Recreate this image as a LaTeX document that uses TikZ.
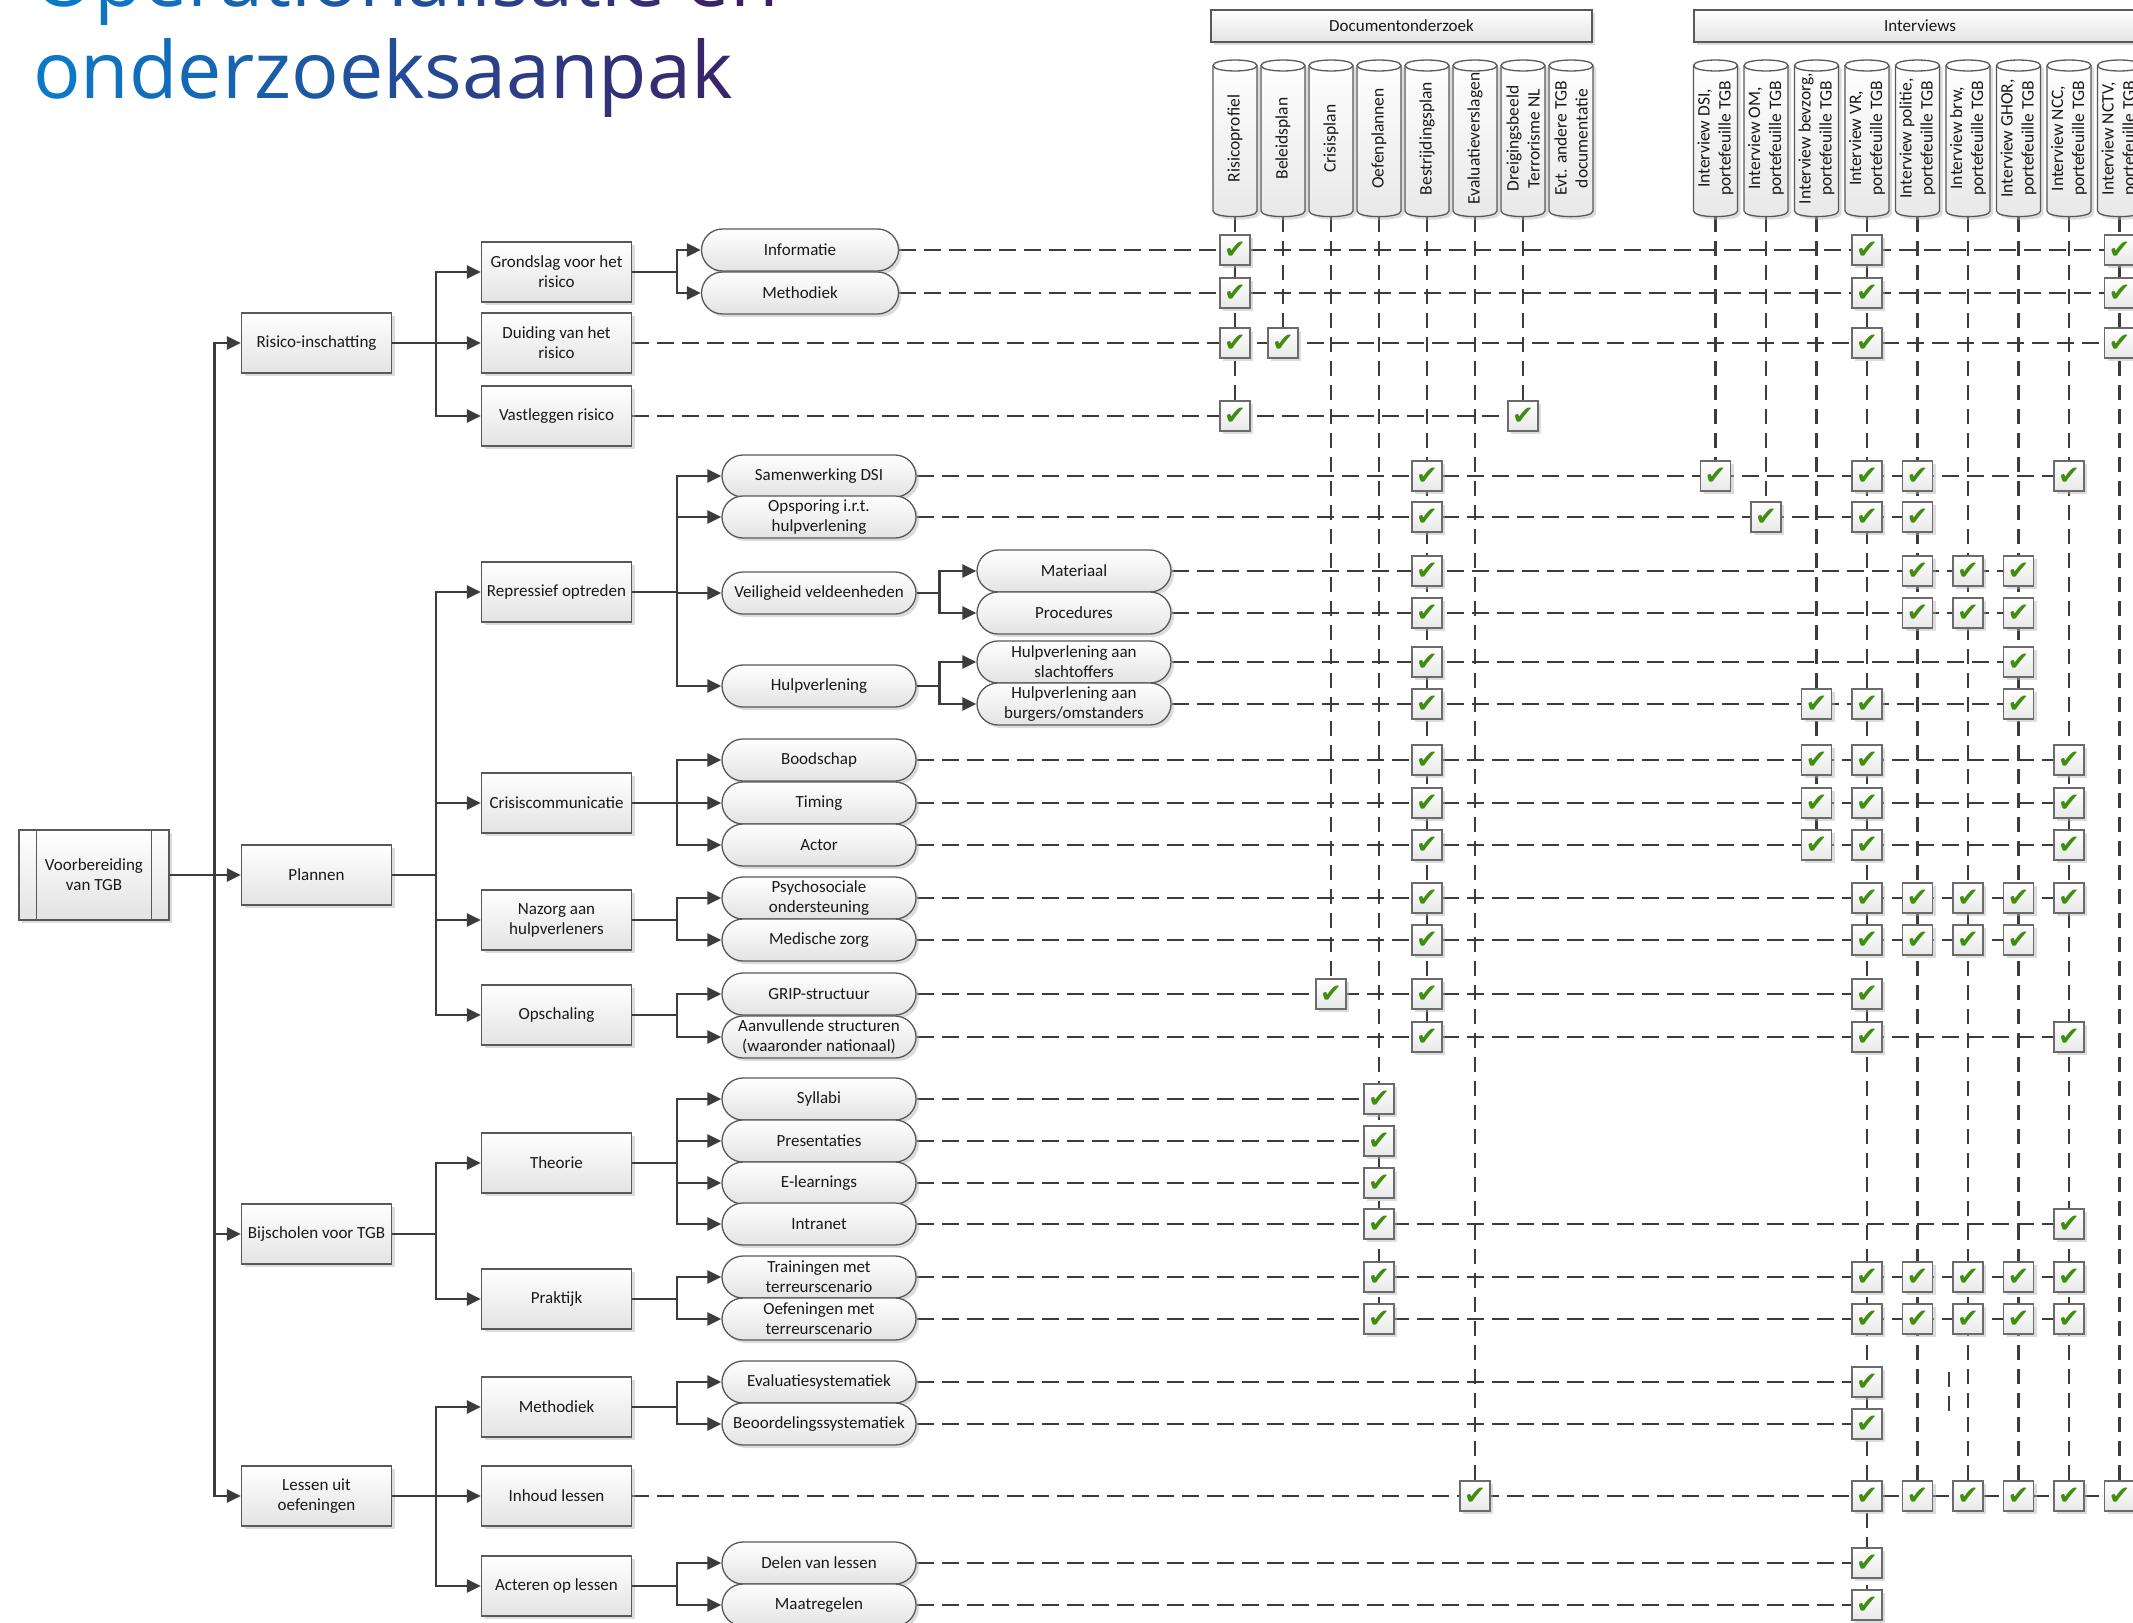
\documentclass[tikz,border=0pt]{standalone}
\usepackage{fontspec}
\setmainfont{Carlito}
\newfontfamily\titlefont{Open Sans}
\newfontfamily\symfont{DejaVu Sans}
\usetikzlibrary{arrows.meta,shadows}
\pgfdeclarelayer{bg}
\pgfsetlayers{bg,main}
\definecolor{lc}{HTML}{3C3C3C}
\definecolor{bd}{HTML}{595959}
\definecolor{chkg}{HTML}{3F8E10}
\definecolor{tA}{HTML}{0A7BCB}
\definecolor{tB}{HTML}{3D1E62}
\newcommand{\gl}[2]{\textcolor{tA!#1!tB}{#2}}
\tikzset{
 shd/.style={drop shadow={shadow xshift=3pt,shadow yshift=-3pt,fill=black!30,opacity=.45}},
 box/.style={draw=bd, line width=1.3pt, top color=white, bottom color=black!11, shd, align=center, font=\fontsize{17}{20}\selectfont, text=black!90, inner sep=2pt},
 lvbox/.style={box, minimum width=150pt, minimum height=60pt},
 stad/.style={box, rounded corners=21pt, minimum width=194pt, minimum height=42pt, inner sep=1pt},
 hdr/.style={box, minimum height=32pt},
 cylsty/.style={draw=bd, line width=1.3pt, top color=white, bottom color=black!9, shd},
 cylrim/.style={draw=bd, line width=1.3pt},
 cyltext/.style={rotate=90, minimum width=157pt, minimum height=44pt, inner sep=0pt, align=center, font=\fontsize{17.5}{21}\selectfont, text=black!90},
 chk/.style={draw=black!58, line width=1.2pt, top color=white, bottom color=black!9, shd, minimum width=30pt, minimum height=30pt, inner sep=0pt, text=chkg, font=\symfont\fontsize{26}{26}\selectfont},
 arr/.style={draw=lc, line width=2.6pt, -{Triangle[length=14pt,width=13pt]}},
 hd/.style={draw=lc, line width=2.6pt, dash pattern=on 17pt off 8pt},
 vd/.style={draw=lc, line width=2.2pt, dash pattern=on 15pt off 9pt},
}
\newcommand{\mycyl}[3]{%
  \draw[cylsty] ({#2-22},65.5) -- ({#2-22},211) .. controls ({#2-22},218.5) and ({#2+22},218.5) .. ({#2+22},211) -- ({#2+22},65.5) .. controls ({#2+22},58.2) and ({#2-22},58.2) .. ({#2-22},65.5) -- cycle;
  \draw[cylrim] ({#2-22},65.5) .. controls ({#2-22},72.8) and ({#2+22},72.8) .. ({#2+22},65.5);
  \node[cyltext] (#1) at (#2,138.5) {#3};}
\begin{document}
\begin{tikzpicture}[x=1pt,y=-1pt]
\useasboundingbox (0,0) rectangle (2133,1622);
\begin{pgfonlayer}{bg}
\fill[white] (0,0) rectangle (2133,1622);
\end{pgfonlayer}
\clip (0,0) rectangle (2133,1622);

% title
\node[anchor=base west, inner sep=0pt, font=\titlefont\fontsize{79}{93}\selectfont] (tt1) at (33,6)
 {\gl{97}{O}\gl{92}{p}\gl{87}{e}\gl{82}{r}\gl{77}{a}\gl{72}{t}\gl{67}{i}\gl{62}{o}\gl{57}{n}\gl{52}{a}\gl{47}{l}\gl{42}{i}\gl{37}{s}\gl{32}{a}\gl{27}{t}\gl{22}{i}\gl{17}{e} \gl{7}{e}\gl{2}{n}};
\node[anchor=base west, inner sep=0pt, font=\titlefont\fontsize{79}{93}\selectfont] (tt2) at (33,98)
 {\gl{97}{o}\gl{91}{n}\gl{85}{d}\gl{79}{e}\gl{74}{r}\gl{68}{z}\gl{62}{o}\gl{56}{e}\gl{50}{k}\gl{44}{s}\gl{38}{a}\gl{32}{a}\gl{27}{n}\gl{21}{p}\gl{15}{a}\gl{9}{k}};

% headers
\node[hdr, minimum width=381pt] (hdoc) at (1401.5,26) {Documentonderzoek};
\node[hdr, minimum width=452pt] (hint) at (1920,26) {Interviews};

% document cylinders
\mycyl{d1}{1235}{Risicoprofiel}
\mycyl{d2}{1283}{Beleidsplan}
\mycyl{d3}{1331}{Crisisplan}
\mycyl{d4}{1379}{Oefenplannen}
\mycyl{d5}{1427}{Bestrijdingsplan}
\mycyl{d6}{1475}{Evaluatieverslagen}
\mycyl{d7}{1523}{Dreigingsbeeld\\Terrorisme NL}
\mycyl{d8}{1571}{Evt. andere TGB\\documentatie}
% interview cylinders
\mycyl{i1}{1715.5}{Interview DSI,\\portefeuille TGB}
\mycyl{i2}{1766}{Interview OM,\\portefeuille TGB}
\mycyl{i3}{1816.5}{Interview bevzorg,\\portefeuille TGB}
\mycyl{i4}{1867}{Interview VR,\\portefeuille TGB}
\mycyl{i5}{1917.5}{Interview politie,\\portefeuille TGB}
\mycyl{i6}{1968}{Interview brw,\\portefeuille TGB}
\mycyl{i7}{2018.5}{Interview GHOR,\\portefeuille TGB}
\mycyl{i8}{2069}{Interview NCC,\\portefeuille TGB}
\mycyl{i9}{2119.5}{Interview NCTV,\\portefeuille TGB}

% root
\node[lvbox, minimum height=90pt] (vb) at (94,875) {Voorbereiding\\van TGB};
\draw[draw=bd, line width=1.3pt] ([xshift=18pt]vb.north west) -- ([xshift=18pt]vb.south west);
\draw[draw=bd, line width=1.3pt] ([xshift=-18pt]vb.north east) -- ([xshift=-18pt]vb.south east);

% level 1
\node[lvbox] (L1a) at (316.5,343) {Risico-inschatting};
\node[lvbox] (L1b) at (316.5,875) {Plannen};
\node[lvbox] (L1c) at (316.5,1234) {Bijscholen voor TGB};
\node[lvbox] (L1d) at (316.5,1496) {Lessen uit\\oefeningen};

% level 2
\node[lvbox] (G)   at (556.5,272) {Grondslag voor het\\risico};
\node[lvbox] (r3)  at (556.5,343) {Duiding van het\\risico};
\node[lvbox] (r4)  at (556.5,416) {Vastleggen risico};
\node[lvbox] (Rep) at (556.5,592) {Repressief optreden};
\node[lvbox] (Cc)  at (556.5,803) {Crisiscommunicatie};
\node[lvbox] (Nz)  at (556.5,920) {Nazorg aan\\hulpverleners};
\node[lvbox] (Op)  at (556.5,1015) {Opschaling};
\node[lvbox] (Th)  at (556.5,1163) {Theorie};
\node[lvbox] (Pr)  at (556.5,1299) {Praktijk};
\node[lvbox] (Me)  at (556.5,1407) {Methodiek};
\node[lvbox] (r26) at (556.5,1496) {Inhoud lessen};
\node[lvbox] (Ac)  at (556.5,1586) {Acteren op lessen};

% level 3
\node[stad, minimum width=197pt] (r1) at (800,250) {Informatie};
\node[stad, minimum width=197pt] (r2) at (800,293) {Methodiek};
\node[stad] (r5)  at (819,476) {Samenwerking DSI};
\node[stad] (r6)  at (819,517) {Opsporing i.r.t.\\hulpverlening};
\node[stad] (VV)  at (819,593) {Veiligheid veldeenheden};
\node[stad] (HV)  at (819,686) {Hulpverlening};
\node[stad] (r11) at (819,760) {Boodschap};
\node[stad] (r12) at (819,803) {Timing};
\node[stad] (r13) at (819,845) {Actor};
\node[stad] (r14) at (819,898) {Psychosociale\\ondersteuning};
\node[stad] (r15) at (819,940) {Medische zorg};
\node[stad] (r16) at (819,994) {GRIP-structuur};
\node[stad] (r17) at (819,1037) {Aanvullende structuren\\(waaronder nationaal)};
\node[stad] (r18) at (819,1099) {Syllabi};
\node[stad] (r19) at (819,1141) {Presentaties};
\node[stad] (r20) at (819,1183) {E-learnings};
\node[stad] (r21) at (819,1224) {Intranet};
\node[stad] (r22) at (819,1277) {Trainingen met\\terreurscenario};
\node[stad] (r23) at (819,1319) {Oefeningen met\\terreurscenario};
\node[stad] (r24) at (819,1382) {Evaluatiesystematiek};
\node[stad] (r25) at (819,1424) {Beoordelingssystematiek};
\node[stad] (r27) at (819,1563) {Delen van lessen};
\node[stad] (r28) at (819,1605) {Maatregelen};
% level 4
\node[stad] (r7)  at (1074,571) {Materiaal};
\node[stad] (r8)  at (1074,613) {Procedures};
\node[stad] (r9)  at (1074,662) {Hulpverlening aan\\slachtoffers};
\node[stad] (r10) at (1074,704) {Hulpverlening aan\\burgers/omstanders};

% tree connectors
\foreach \t in {L1a,L1b,L1c,L1d} \draw[arr] (vb.east) -- ++(45,0) |- (\t.west);
\foreach \t in {G,r3,r4} \draw[arr] (L1a.east) -- ++(44,0) |- (\t.west);
\foreach \t in {Rep,Cc,Nz,Op} \draw[arr] (L1b.east) -- ++(44,0) |- (\t.west);
\foreach \t in {Th,Pr} \draw[arr] (L1c.east) -- ++(44,0) |- (\t.west);
\foreach \t in {Me,r26,Ac} \draw[arr] (L1d.east) -- ++(44,0) |- (\t.west);
\foreach \t in {r1,r2} \draw[arr] (G.east) -- ++(45,0) |- (\t.west);
\foreach \t in {r5,r6,VV,HV} \draw[arr] (Rep.east) -- ++(45,0) |- (\t.west);
\foreach \t in {r7,r8} \draw[arr] (VV.east) -- ++(23,0) |- (\t.west);
\foreach \t in {r9,r10} \draw[arr] (HV.east) -- ++(23,0) |- (\t.west);
\foreach \t in {r11,r12,r13} \draw[arr] (Cc.east) -- ++(45,0) |- (\t.west);
\foreach \t in {r14,r15} \draw[arr] (Nz.east) -- ++(45,0) |- (\t.west);
\foreach \t in {r16,r17} \draw[arr] (Op.east) -- ++(45,0) |- (\t.west);
\foreach \t in {r18,r19,r20,r21} \draw[arr] (Th.east) -- ++(45,0) |- (\t.west);
\foreach \t in {r22,r23} \draw[arr] (Pr.east) -- ++(45,0) |- (\t.west);
\foreach \t in {r24,r25} \draw[arr] (Me.east) -- ++(45,0) |- (\t.west);
\foreach \t in {r27,r28} \draw[arr] (Ac.east) -- ++(45,0) |- (\t.west);

% checks and row connectors
\foreach \r/\cols/\last in {
 1/{d1,i4,i9}/i9, 2/{d1,i4,i9}/i9, 3/{d1,d2,i4,i9}/i9, 4/{d1,d7}/d7,
 5/{d5,i1,i4,i5,i8}/i8, 6/{d5,i2,i4,i5}/i5, 7/{d5,i5,i6,i7}/i7, 8/{d5,i5,i6,i7}/i7,
 9/{d5,i7}/i7, 10/{d5,i3,i4,i7}/i7, 11/{d5,i3,i4,i8}/i8, 12/{d5,i3,i4,i8}/i8,
 13/{d5,i3,i4,i8}/i8, 14/{d5,i4,i5,i6,i7,i8}/i8, 15/{d5,i4,i5,i6,i7}/i7,
 16/{d3,d5,i4}/i4, 17/{d5,i4,i8}/i8, 18/{d4}/d4, 19/{d4}/d4, 20/{d4}/d4,
 21/{d4,i8}/i8, 22/{d4,i4,i5,i6,i7,i8}/i8, 23/{d4,i4,i5,i6,i7,i8}/i8,
 24/{i4}/i4, 25/{i4}/i4, 26/{d6,i4,i5,i6,i7,i8,i9}/i9, 27/{i4}/i4, 28/{i4}/i4}{
  \foreach \c in \cols {\node[chk] (k\r\c) at (\c |- r\r) {✔};}
  \begin{pgfonlayer}{bg}\draw[hd] (r\r.east) -- (k\r\last.center);\end{pgfonlayer}
}

% column connectors
\begin{pgfonlayer}{bg}
\foreach \c/\r in {d1/4,d2/3,d3/16,d4/23,d5/17,d6/26,d7/4,i1/5,i2/6,i3/13,i4/28,i5/26,i6/26,i7/26,i8/26,i9/26}
  \draw[vd] (\c.west) -- (k\r\c.center);
\coordinate (s1) at (1949,1372);
\coordinate (s2) at (1949,1413);
\draw[vd] (s1) -- (s2);
\end{pgfonlayer}
\end{tikzpicture}
\end{document}
